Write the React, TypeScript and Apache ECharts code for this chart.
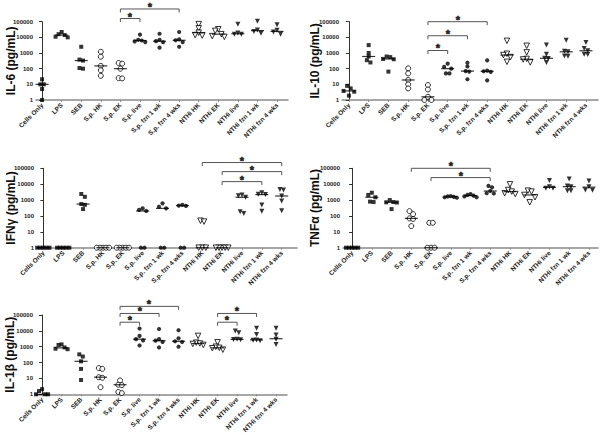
import React, { useEffect, useRef } from 'react';
import * as echarts from 'echarts';

const categories = ['Cells Only', 'LPS', 'SEB', 'S.p. HK', 'S.p. EK', 'S.p. live', 'S.p. fzn 1 wk', 'S.p. fzn 4 wks', 'NTHi HK', 'NTHi EK', 'NTHi live', 'NTHi fzn 1 wk', 'NTHi fzn 4 wks'];
const markers = ['square', 'square', 'square', 'openCircle', 'openCircle', 'circle', 'circle', 'circle', 'openTriangle', 'openTriangle', 'triangle', 'triangle', 'triangle'];

const il6Values = [
  [21, 10, 10, 5, 1], [22000, 16000, 14000, 11000, 10000], [2500, 380, 330, 110, 100], [1200, 580, 150, 80, 35],
  [230, 210, 100, 25, 24], [15000, 7000, 6300, 5500, 5000], [17000, 7000, 5700, 4900, 2200], [22000, 7500, 6500, 5000, 2500],
  [70000, 38000, 20000, 14000, 13000], [33000, 26000, 16000, 12000, 10800], [69000, 19000, 16000, 16000],
  [105000, 30000, 24000, 18000], [65000, 28000, 22000, 16000],
];
const il6Medians = [10, 14000, 330, 150, 100, 6300, 5700, 6500, 20000, 16000, 17000, 27000, 24000];
const il6Brackets = [[4, 5, 160000], [4, 7, 650000]];

const il10Values = [
  [8, 5.5, 3.8, 3.4, 1.9], [3200, 1000, 600, 350, 250], [600, 550, 420, 400, 65], [105, 50, 19, 10, 5.5],
  [9, 4.7, 1.6, 1, 1], [210, 130, 100, 50, 50], [240, 140, 70, 65, 21], [340, 75, 68, 62, 18],
  [6000, 900, 740, 550, 275], [2900, 1100, 420, 390, 250], [3200, 820, 460, 440, 250],
  [6600, 1300, 1200, 650, 620], [4700, 1950, 1400, 820, 800],
];
const il10Medians = [3.8, 600, 420, 19, 1.6, 100, 70, 68, 740, 400, 460, 1200, 1400];
const il10Brackets = [[4, 5, 1450], [4, 6, 12700], [4, 7, 100000]];

const ifnValues = [
  [1, 1, 1, 1, 1], [1, 1, 1, 1, 1], [2400, 1600, 560, 500, 270], [1, 1, 1, 1, 1],
  [1, 1, 1, 1, 1], [300, 240, 205, 1, 1], [620, 380, 300, 1, 1], [500, 450, 430, 1, 1],
  [50, 44, 1, 1, 1], [1, 1, 1, 1, 1], [2100, 1900, 1500, 185, 145],
  [2900, 2300, 2200, 490, 200], [4700, 4300, 1800, 870, 215],
];
const ifnMedians = [1, 1, 560, 1, 1, 205, 300, 450, 1, 1, 1500, 2200, 1800];
const ifnBrackets = [[9, 11, 14500], [9, 12, 62000], [8, 12, 230000]];

const tnfValues = [
  [1, 1, 1, 1, 1], [2900, 2100, 1500, 800, 750], [1000, 750, 720, 700, 270], [200, 130, 70, 65, 23],
  [37, 37, 1, 1, 1], [1800, 1700, 1600, 1500, 1400], [2400, 2100, 1900, 1700, 1500], [7800, 6300, 3700, 2700, 2600],
  [9800, 4300, 3400, 2700, 2400], [3900, 3400, 2100, 1500, 720], [17000, 7000, 5500, 5500],
  [21000, 7700, 7000, 3900, 3800], [16000, 7000, 4300, 4200],
];
const tnfMedians = [1, 1500, 720, 70, 1, 1600, 1900, 3700, 3400, 2100, 6300, 7000, 6500];
const tnfBrackets = [[4, 7, 26000], [3, 7, 100000]];

const il1bValues = [
  [2.1, 1.6, 1, 1, 1], [1400, 1300, 900, 750, 700], [330, 240, 120, 40, 8], [45, 40, 12, 11, 2.8],
  [7.5, 4, 3.8, 1.4, 1.2], [14000, 4800, 3000, 2500, 1200], [13000, 3000, 2400, 2000, 900], [11000, 3400, 2200, 2000, 1000],
  [4800, 1800, 1600, 1500, 1300], [1900, 1000, 850, 800, 650], [9800, 7700, 3000, 2900, 2800],
  [14500, 6000, 2700, 2600, 2400], [14500, 5400, 3000, 1400],
];
const il1bMedians = [1, 850, 120, 12, 4, 3000, 2400, 2200, 1600, 850, 2900, 2700, 3200];
const il1bBrackets = [[4, 5, 35000], [4, 6, 125000], [4, 7, 350000], [9, 10, 35000], [9, 11, 125000]];

const FONT = 'Liberation Sans, Arial, sans-serif';

const panels = [
  { name: 'IL-6 (pg/mL)', values: il6Values, medians: il6Medians, brackets: il6Brackets, left: 36, top: 21.7, width: 252, height: 78.3, xmin: -0.31, xmax: 12.56, gap: 19 },
  { name: 'IL-10 (pg/mL)', values: il10Values, medians: il10Medians, brackets: il10Brackets, left: 342, top: 21.7, width: 256, height: 78.3, xmin: -0.35, xmax: 12.61, gap: 21 },
  { name: 'IFNγ (pg/mL)', values: ifnValues, medians: ifnMedians, brackets: ifnBrackets, left: 37, top: 168.3, width: 260, height: 79.4, xmin: -0.32, xmax: 12.77, gap: 20 },
  { name: 'TNFα (pg/mL)', values: tnfValues, medians: tnfMedians, brackets: tnfBrackets, left: 343, top: 168.3, width: 255, height: 79.4, xmin: -0.46, xmax: 12.46, gap: 22 },
  { name: 'IL-1β (pg/mL)', values: il1bValues, medians: il1bMedians, brackets: il1bBrackets, left: 36, top: 315, width: 251, height: 79.3, xmin: -0.31, xmax: 12.56, gap: 20 },
];

// horizontal spreading of overlapping points (column scatter layout)
function spread(vals: number[]): number[] {
  const order = vals.map((_, i) => i).sort((a, b) => vals[b] - vals[a]);
  const off = new Array(vals.length).fill(0);
  let g: number[] = [];
  const flush = () => {
    const n = g.length;
    if (!n) return;
    const sp = Math.min(0.18, 0.62 / Math.max(n - 1, 1));
    const pat: number[] = [];
    if (n % 2 === 1) { pat.push(0); for (let k = 1; pat.length < n; k++) { pat.push(-k); if (pat.length < n) pat.push(k); } }
    else { for (let k = 0.5; pat.length < n; k++) { pat.push(-k); pat.push(k); } }
    g.forEach((idx, j) => { off[idx] = pat[j] * sp; });
    g = [];
  };
  order.forEach((k) => {
    if (g.length && Math.log10(vals[g[g.length - 1]]) - Math.log10(vals[k]) > 0.22) flush();
    g.push(k);
  });
  flush();
  return off;
}

function markerStyle(m: string) {
  switch (m) {
    case 'square': return { symbol: 'rect', symbolSize: 4, itemStyle: { color: '#000' } };
    case 'openCircle': return { symbol: 'circle', symbolSize: 5, itemStyle: { color: '#fff', borderColor: '#000', borderWidth: 1 } };
    case 'circle': return { symbol: 'circle', symbolSize: 4.2, itemStyle: { color: '#000' } };
    case 'openTriangle': return { symbol: 'triangle', symbolSize: 5.5, symbolRotate: 180, itemStyle: { color: '#fff', borderColor: '#000', borderWidth: 1 } };
    default: return { symbol: 'triangle', symbolSize: 5, symbolRotate: 180, itemStyle: { color: '#000' } };
  }
}

export default function App() {
  const ref = useRef<HTMLDivElement>(null);
  useEffect(() => {
    if (!ref.current) return;
    const chart = echarts.init(ref.current, null, { renderer: 'svg' });
    const idx = categories.map((_, i) => i);
    const grid: any[] = [];
    const xAxis: any[] = [];
    const yAxis: any[] = [];
    const series: any[] = [];
    panels.forEach((p, pi) => {
      grid.push({ left: p.left, top: p.top, width: p.width, height: p.height, containLabel: false, outerBoundsMode: 'none' });
      xAxis.push({
        type: 'value', gridIndex: pi, min: p.xmin, max: p.xmax,
        axisLine: { show: true, onZero: false, lineStyle: { color: '#8a8a8a', width: 1.5 } },
        axisTick: { show: true, customValues: idx, length: 2, lineStyle: { color: '#8a8a8a', width: 1 } },
        axisLabel: {
          customValues: idx, rotate: 45, fontSize: 6.5, fontWeight: 'bold', fontFamily: FONT, color: '#222', margin: 4,
          formatter: (v: number) => categories[Math.round(v)] ?? '',
        },
        splitLine: { show: false },
      });
      yAxis.push({
        type: 'log', logBase: 10, min: 1, max: 100000, gridIndex: pi,
        name: p.name, nameLocation: 'middle', nameRotate: 90, nameGap: p.gap, nameMoveOverlap: false,
        nameTextStyle: { fontSize: 12, fontWeight: 'bold', fontFamily: FONT, color: '#111' },
        axisLine: { show: true, lineStyle: { color: '#333', width: 1 } },
        axisTick: { show: true, length: 3, lineStyle: { color: '#333' } },
        minorTick: { show: false },
        axisLabel: { fontSize: 6, fontWeight: 'bold', fontFamily: FONT, color: '#222', margin: 3, formatter: (v: number) => String(Math.round(v)) },
        splitLine: { show: false },
      });
      const pts: any[] = [];
      p.values.forEach((vals, ci) => {
        const off = spread(vals);
        const st = markerStyle(markers[ci]);
        vals.forEach((v, k) => pts.push({ value: [ci + off[k], v], ...st }));
      });
      series.push({ type: 'scatter', xAxisIndex: pi, yAxisIndex: pi, data: pts, clip: false, silent: true, z: 3 });
      series.push({
        type: 'scatter', xAxisIndex: pi, yAxisIndex: pi, clip: false, silent: true, z: 4,
        symbol: 'rect', symbolSize: [13, 1.2], itemStyle: { color: '#000' },
        data: p.medians.map((m, ci) => [ci, m]),
      });
      series.push({
        type: 'custom', xAxisIndex: pi, yAxisIndex: pi, clip: false, silent: true, z: 5,
        encode: { x: [0, 1], y: 2 },
        data: p.brackets,
        renderItem: (params: any, api: any) => {
          const a = api.coord([api.value(0), api.value(2)]);
          const b = api.coord([api.value(1), api.value(2)]);
          return {
            type: 'group',
            children: [
              { type: 'polyline', shape: { points: [[a[0], a[1] + 3.5], [a[0], a[1]], [b[0], b[1]], [b[0], b[1] + 3.5]] }, style: { stroke: '#555', lineWidth: 1, fill: null } },
              { type: 'text', style: { text: '*', x: Math.round((a[0] + b[0]) / 2), y: a[1] - 2, align: 'center', verticalAlign: 'middle', fontSize: 11, fontWeight: 'bold', fontFamily: FONT, fill: '#222', stroke: '#222', lineWidth: 0.5 } },
            ],
          };
        },
      });
    });
    chart.setOption({ animation: false, backgroundColor: '#fff', grid, xAxis, yAxis, series });
    return () => chart.dispose();
  }, []);
  return <div ref={ref} style={{ position: 'fixed', left: 0, top: 0, width: 600, height: 433 }} />;
}
